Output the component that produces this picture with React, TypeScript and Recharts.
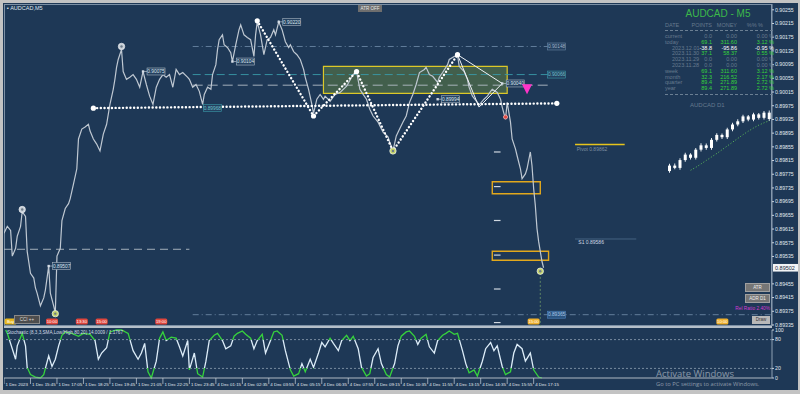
import React from 'react'
import {
  ComposedChart, Line, Bar, XAxis, YAxis,
  ReferenceLine, ReferenceArea, ReferenceDot,
} from 'recharts'

const FONT = '"Liberation Sans", "DejaVu Sans", sans-serif'
const BG = '#1e3856'
const AXIS_TEXT = '#e3eaf1'

// M5 bar index (0 = first bar on screen) and close price
const bars = [
  0, 2, 4, 5, 7, 8, 10, 11, 13, 14,
  16, 18, 19, 20, 22, 24, 25, 27, 28, 30,
  31, 32, 34, 35, 37, 39, 40, 42, 44, 45,
  47, 49, 51, 52, 54, 56, 58, 60, 62, 64,
  66, 67, 68, 69, 71, 72, 74, 76, 78, 80,
  82, 84, 86, 88, 90, 92, 94, 96, 98, 100,
  102, 104, 106, 108, 111, 112, 114, 116, 118, 120,
  121, 123, 125, 126, 128, 129, 130, 132, 133, 135,
  137, 138, 140, 142, 143, 145, 147, 149, 151, 152,
  153, 155, 157, 159, 161, 163, 164, 166, 168, 170,
  172, 173, 175, 177, 179, 181, 182, 184, 186, 187,
  189, 191, 193, 194, 197, 200, 203, 207, 211, 213,
  215, 217, 219, 221, 223, 226, 229, 232, 233, 235,
  237, 239, 241, 243, 245, 247, 249, 251, 254, 255,
  257, 259, 262, 263, 265, 268, 269, 272, 274, 275,
  278, 280, 281, 283, 286, 287, 290, 292, 294, 295,
  298, 300, 301, 303, 304, 306, 307, 309, 310, 312,
  313, 315, 316, 318, 319, 320, 321, 322, 323, 324,
  325, 326,
]
const closes = [
  0.89603, 0.89623, 0.89611, 0.89536, 0.89559, 0.89594, 0.89623, 0.89666, 0.89652, 0.8955,
  0.89486, 0.89472, 0.89443, 0.89428, 0.89391, 0.89414, 0.89437, 0.89507, 0.89428, 0.89391,
  0.8937, 0.89536, 0.89559, 0.8964, 0.89675, 0.89689, 0.89704, 0.89747, 0.89791, 0.89878,
  0.89907, 0.89913, 0.89921, 0.89901, 0.89878, 0.89863, 0.89843, 0.89892, 0.89921, 0.89979,
  0.90023, 0.90052, 0.90087, 0.9011, 0.90139, 0.90075, 0.90052, 0.90058, 0.90066, 0.90052,
  0.90029, 0.90075, 0.90037, 0.90003, 0.89979, 0.90029, 0.90052, 0.90066, 0.90058, 0.90066,
  0.90029, 0.90081, 0.90066, 0.90072, 0.90058, 0.90052, 0.90029, 0.90037, 0.90017, 0.89979,
  0.90008, 0.90029, 0.90023, 0.90066, 0.90095, 0.90139, 0.90168, 0.90182, 0.90153, 0.90145,
  0.9013, 0.90104, 0.90153, 0.90197, 0.90211, 0.90182, 0.90174, 0.90168, 0.90119, 0.90182,
  0.9022, 0.90182, 0.90124, 0.90168, 0.90174, 0.90197, 0.90182, 0.9022, 0.90197, 0.90162,
  0.90145, 0.90153, 0.90133, 0.90124, 0.9011, 0.90081, 0.90058, 0.90023, 0.89979, 0.89953,
  0.89994, 0.90008, 0.89994, 0.90003, 0.89988, 0.90008, 0.90014, 0.90032, 0.90066, 0.90075,
  0.90023, 0.90008, 0.89994, 0.89965, 0.89945, 0.89927, 0.89898, 0.89884, 0.89869, 0.89843,
  0.89887, 0.89907, 0.89927, 0.89945, 0.89985, 0.90008, 0.90037, 0.90072, 0.90081, 0.90087,
  0.90066, 0.90061, 0.90043, 0.90058, 0.90072, 0.90095, 0.9011, 0.90119, 0.90124, 0.9009,
  0.90075, 0.90052, 0.90029, 0.90003, 0.89985, 0.89977, 0.89994, 0.90003, 0.90017, 0.90023,
  0.90014, 0.89994, 0.89971, 0.89936, 0.89985, 0.89927, 0.89878, 0.89849, 0.89829, 0.89791,
  0.89762, 0.89776, 0.89791, 0.8984, 0.898, 0.89733, 0.89684, 0.89617, 0.89579, 0.8955,
  0.89521, 0.89502,
]

// stochastic main line
const oscBars = [
  1, 2, 5, 7, 8, 11, 13, 14, 16, 19, 22, 24, 27, 29, 31, 33, 35, 37, 41, 45,
  48, 52, 55, 57, 59, 62, 64, 68, 71, 75, 78, 81, 83, 85, 87, 89, 92, 94, 96, 98,
  101, 104, 106, 108, 111, 112, 115, 117, 120, 122, 124, 127, 129, 132, 134, 137, 139, 141, 144, 146,
  149, 151, 153, 156, 158, 161, 163, 165, 168, 170, 173, 175, 178, 180, 182, 185, 187, 190, 192, 194,
  197, 199, 202, 204, 207, 209, 211, 214, 216, 219, 221, 223, 226, 228, 231, 233, 236, 238, 240, 243,
  245, 248, 250, 252, 255, 257, 260, 262, 265, 267, 269, 272, 274, 277, 279, 281, 284, 286, 289, 291,
  294, 296, 298, 301, 303, 306, 308, 310, 313, 315, 318, 320, 323, 325,
]
const stochK = [
  100, 93, 61, 39, 67, 93, 67, 22, 7, 2, 0, 7, 46, 24, 39, 67, 89, 96, 93, 87,
  93, 91, 78, 39, 52, 63, 96, 100, 100, 93, 57, 39, 52, 72, 13, 0, 35, 83, 96, 78,
  85, 83, 65, 46, 78, 17, 52, 9, 2, 35, 78, 89, 93, 78, 61, 67, 87, 93, 98, 91,
  83, 61, 78, 91, 52, 78, 96, 98, 89, 57, 17, 4, 9, 30, 13, 39, 22, 52, 74, 65,
  83, 72, 57, 78, 89, 78, 87, 61, 22, 4, 9, 43, 61, 30, 7, 2, 30, 67, 87, 96,
  98, 87, 70, 83, 91, 65, 52, 78, 89, 93, 98, 91, 93, 57, 30, 11, 17, 4, 35, 61,
  74, 57, 67, 24, 7, 13, 52, 70, 61, 35, 52, 17, 2, 0,
]

const priceTicks = [
  0.90255, 0.90215, 0.90175, 0.90135, 0.90095, 0.90055, 0.90015, 0.89975,
  0.89935, 0.89895, 0.89855, 0.89815, 0.89775, 0.89735, 0.89695, 0.89655,
  0.89615, 0.89575, 0.89535, 0.89455, 0.89415, 0.89375, 0.89335,
]
const timeTicks = [0, 16, 32, 48, 64, 80, 96, 112, 128, 144, 160, 176, 192, 208, 224, 240, 256, 272, 288, 304, 320]
const timeLabels = [
  '1 Dec 2023', '1 Dec 15:45', '1 Dec 17:05', '1 Dec 18:25', '1 Dec 19:45', '1 Dec 21:05', '1 Dec 22:25',
  '1 Dec 23:45', '4 Dec 01:15', '4 Dec 02:35', '4 Dec 03:55', '4 Dec 05:15', '4 Dec 06:35', '4 Dec 07:55',
  '4 Dec 09:15', '4 Dec 10:35', '4 Dec 11:55', '4 Dec 13:15', '4 Dec 14:35', '4 Dec 15:55', '4 Dec 17:15',
]

// drawn objects
const zigzag = [
  { t: 153, p: 0.90223 }, { t: 187, p: 0.89945 }, { t: 213, p: 0.90075 },
  { t: 235, p: 0.89843 }, { t: 274, p: 0.90124 },
]
const neckline = [{ t: 54, p: 0.89968 }, { t: 334, p: 0.89982 }]
const triangle = [
  { t: 274, p: 0.90124 }, { t: 287, p: 0.89971 }, { t: 301, p: 0.9004 }, { t: 274, p: 0.90124 },
]
const levelLines = [
  { price: 0.90148, from: 114, to: 330, color: '#6a86a3', dash: '6 3 1 3' },
  { price: 0.90066, from: 114, to: 330, color: '#3a9aa8', dash: '8 4' },
  { price: 0.90035, from: 114, to: 330, color: '#b3bcc6', dash: '10 5' },
  { price: 0.89556, from: 0, to: 112, color: '#b3bcc6', dash: '8 5' },
  { price: 0.89365, from: 114, to: 464, color: '#6a86a3', dash: '6 3 1 3' },
]
const fibLevels = [0.8984, 0.89739, 0.8964, 0.89539, 0.8944, 0.89342]
const priceTags = [0.89507, 0.90075, 0.90104, 0.9022, 0.89994, 0.9004]
const priceTagBars = [27, 84, 138, 166, 262, 301]
const swingMarks = [
  { t: 11, p: 0.89672, c: '#c9d0d8' }, { t: 71, p: 0.90148, c: '#c9d0d8' },
  { t: 31, p: 0.89368, c: '#c4d46a' }, { t: 235, p: 0.89843, c: '#c4d46a' },
  { t: 324, p: 0.89492, c: '#c4d46a' },
]
const eventFlags = [
  { t: 29, text: '10:00', c: '#e0463c' }, { t: 47, text: '13:30', c: '#e0463c' },
  { t: 59, text: '15:00', c: '#e0463c' }, { t: 95, text: '19:00', c: '#e0463c' },
  { t: 320, text: '15:00', c: '#efb02c' }, { t: 434, text: '10:00', c: '#efb02c' },
]

// account stats table
const statRows = ['current', 'today', '2023.12.01', '2023.11.30', '2023.11.29', '2023.11.28', 'week', 'month', 'quarter', 'year']
const statPoints = [0, 69.1, -38.8, 37.1, 0, 0, 69.1, 32.3, 89.4, 89.4]
const statMoney = [0, 311.6, -95.86, 58.37, 0, 0, 311.6, 216.52, 271.89, 271.89]
const statPct = [0, 3.12, -0.95, 0.55, 0, 0, 3.12, 2.17, 2.72, 2.72]

// D1 mini chart
const d1Open = [0.8832, 0.8851, 0.8843, 0.887, 0.8889, 0.8878, 0.8906, 0.8921, 0.8912, 0.894, 0.8957, 0.8949, 0.8976, 0.8993, 0.9004, 0.9021, 0.901, 0.9028, 0.9016, 0.9034]
const d1Close = [0.8851, 0.8843, 0.887, 0.8889, 0.8878, 0.8906, 0.8921, 0.8912, 0.894, 0.8957, 0.8949, 0.8976, 0.8993, 0.9004, 0.9021, 0.901, 0.9028, 0.9016, 0.9034, 0.9012]
const d1High = [0.8857, 0.8858, 0.8876, 0.8895, 0.8894, 0.8912, 0.8928, 0.8927, 0.8946, 0.8963, 0.8962, 0.8982, 0.8999, 0.9011, 0.9027, 0.9026, 0.9034, 0.9033, 0.904, 0.9041]
const d1Low = [0.8826, 0.8838, 0.8837, 0.8864, 0.8872, 0.8872, 0.89, 0.8906, 0.8906, 0.8934, 0.8943, 0.8943, 0.897, 0.8987, 0.8998, 0.9004, 0.9004, 0.901, 0.901, 0.9005]
const d1Ma = [null, null, null, null, 0.8835, 0.8845, 0.8857, 0.8869, 0.8881, 0.8893, 0.8906, 0.8919, 0.8932, 0.8945, 0.8958, 0.897, 0.8981, 0.8991, 0.8999, 0.9006]

const priceData = bars.map((t, i) => ({ t, close: closes[i] }))
const oscData = oscBars.map((t, i) => ({ t, k: stochK[i] }))
const d1Data = d1Open.map((o, i) => ({
  i,
  body: [Math.min(o, d1Close[i]), Math.max(o, d1Close[i])],
  wick: [d1Low[i], d1High[i]],
  ma: d1Ma[i],
}))
const lastClose = closes[closes.length - 1]

const tag = (text: string, border: string, fill = '#24405f', color = '#dbe4ee', withDot = true) =>
  (p: any) => (
    <g>
      {withDot && <rect x={p.cx - 1.2} y={p.cy - 1.2} width={2.4} height={2.4} fill="#d5dde6" />}
      {withDot && <line x1={p.cx + 1} y1={p.cy} x2={p.cx + 4} y2={p.cy} stroke="#d5dde6" strokeWidth={0.6} />}
      <rect x={p.cx + 4} y={p.cy - 3.5} width={18} height={7} fill={fill} stroke={border} strokeWidth={0.6} />
      <text x={p.cx + 13} y={p.cy + 1.8} fontSize={4.8} textAnchor="middle" fill={color} fontFamily={FONT}>{text}</text>
    </g>
  )

const ring = (c: string) => (p: any) => (
  <g>
    <circle cx={p.cx} cy={p.cy} r={3.2} fill={c} stroke="#eef1f4" strokeWidth={0.7} />
    <circle cx={p.cx} cy={p.cy} r={1.2} fill="#6d7b88" />
  </g>
)

const flag = (text: string, c: string) => (p: any) => (
  <g>
    <rect x={p.cx - 6} y={p.cy - 3} width={12} height={6} rx={1.5} fill={c} />
    <text x={p.cx} y={p.cy + 1.6} fontSize={4.2} textAnchor="middle" fill="#fff" fontFamily={FONT}>{text}</text>
  </g>
)

const pinkArrow = (p: any) => (
  <polygon points={`${p.cx - 5},${p.cy - 5} ${p.cx + 5},${p.cy - 5} ${p.cx},${p.cy + 5}`} fill="#ff34c8" />
)

const textMark = (text: string, color: string, size = 5.5) => (p: any) => (
  <text x={p.cx} y={p.cy} fontSize={size} fill={color} fontFamily={FONT}>{text}</text>
)

function CurrentPrice(props: any) {
  const vb = props.viewBox || {}
  const x = vb.x + vb.width + 1
  return (
    <g>
      <rect x={x} y={vb.y - 3.8} width={25} height={7.6} fill="#f2f4f6" />
      <text x={x + 2} y={vb.y + 2} fontSize={5.5} fill="#1b2a3a" fontFamily={FONT}>{lastClose.toFixed(5)}</text>
    </g>
  )
}

function TimeTick(props: any) {
  const idx = timeTicks.indexOf(props.payload.value)
  return (
    <g>
      <line x1={props.x} y1={props.y - 2} x2={props.x} y2={props.y + 4} stroke="#c8d2dc" strokeWidth={0.7} />
      <text x={props.x + 1.5} y={props.y + 5.5} fontSize={4.4} fill={AXIS_TEXT} fontFamily={FONT}>{timeLabels[idx]}</text>
    </g>
  )
}

function statColor(v: number) {
  if (v > 0) return '#35d23b'
  if (v < 0) return '#ffffff'
  return '#667a8e'
}

export default function App() {
  return (
    <div style={{ position: 'absolute', left: 0, top: 0, width: 800, height: 394, background: '#c3c3c3', overflow: 'hidden', fontFamily: FONT }}>
      <div style={{ position: 'absolute', left: 3, top: 3, width: 795, height: 387, background: BG }} />
      <div style={{ position: 'absolute', left: 4, top: 4, width: 768, height: 322, border: '1px solid #7c90a5', boxSizing: 'border-box' }} />
      <div style={{ position: 'absolute', left: 4, top: 326, width: 768, height: 2, background: '#b5bfc9' }} />

      <div style={{ position: 'absolute', left: 4, top: 4 }}>
        <ComposedChart width={796} height={326} data={priceData} margin={{ top: 0, right: 0, bottom: 4, left: 0 }}>
          <XAxis dataKey="t" type="number" domain={[0, 464]} hide />
          <YAxis
            orientation="right"
            type="number"
            domain={[0.89332, 0.90272]}
            ticks={priceTicks}
            interval={0}
            width={28}
            tickSize={2}
            tickMargin={1}
            tickFormatter={(v: number) => v.toFixed(5)}
            tick={{ fontSize: 5.2, fill: AXIS_TEXT, fontFamily: FONT }}
            tickLine={{ stroke: '#c8d2dc' }}
            axisLine={{ stroke: '#8ea0b3' }}
          />
          <ReferenceArea x1={193} x2={304} y1={0.90011} y2={0.9009} fill="#6e9040" fillOpacity={0.45} stroke="#dcc828" strokeWidth={1.2} />
          <ReferenceArea x1={295} x2={324} y1={0.89718} y2={0.89753} fill="none" stroke="#e2a81c" strokeWidth={1.4} />
          <ReferenceArea x1={295} x2={329} y1={0.89524} y2={0.8955} fill="none" stroke="#e2a81c" strokeWidth={1.4} />
          {levelLines.map((l, i) => (
            <ReferenceLine key={'lv' + i} segment={[{ x: l.from, y: l.price }, { x: l.to, y: l.price }]} stroke={l.color} strokeDasharray={l.dash} strokeWidth={0.9} />
          ))}
          <ReferenceLine segment={[{ x: 345, y: 0.89862 }, { x: 375, y: 0.89862 }]} stroke="#e6c41c" strokeWidth={1.4} />
          <ReferenceLine segment={[{ x: 345, y: 0.89586 }, { x: 382, y: 0.89586 }]} stroke="#4f6d8d" strokeWidth={0.8} />
          <ReferenceLine segment={[{ x: 324, y: 0.89487 }, { x: 324, y: 0.89332 }]} stroke="#6e9a6a" strokeDasharray="2 2" strokeWidth={0.8} />
          {fibLevels.map((f, i) => (
            <ReferenceLine key={'fb' + i} segment={[{ x: 296, y: f }, { x: 300, y: f }]} stroke="#d0d8e0" strokeWidth={1.2} />
          ))}
          <ReferenceLine y={lastClose} stroke="none" label={(p: any) => <CurrentPrice {...p} />} />

          <Line dataKey="close" stroke="#bfc8d2" strokeWidth={1.2} dot={false} isAnimationActive={false} />

          <Line data={triangle} dataKey="p" stroke="#eef2f6" strokeWidth={1} dot={false} isAnimationActive={false} />
          <Line data={neckline} dataKey="p" stroke="#ffffff" strokeWidth={2.4} strokeDasharray="0.1 3.6" strokeLinecap="round"
            dot={{ r: 2.6, fill: '#ffffff', stroke: 'none', strokeWidth: 0 }} isAnimationActive={false} />
          <Line data={zigzag} dataKey="p" stroke="#ffffff" strokeWidth={2.4} strokeDasharray="0.1 3.6" strokeLinecap="round"
            dot={{ r: 2.6, fill: '#ffffff', stroke: 'none', strokeWidth: 0 }} isAnimationActive={false} />

          {swingMarks.map((m, i) => (
            <ReferenceDot key={'sw' + i} x={m.t} y={m.p} shape={ring(m.c)} />
          ))}
          {priceTags.map((p, i) => (
            <ReferenceDot key={'tg' + i} x={priceTagBars[i]} y={p} shape={tag(p.toFixed(5), '#aab6c2')} />
          ))}
          <ReferenceDot x={326} y={0.90148} shape={tag('0.90148', '#6a86a3', '#24405f', '#9fb3c8', false)} />
          <ReferenceDot x={326} y={0.90066} shape={tag('0.90066', '#3a9aa8', '#24405f', '#6fc3cc', false)} />
          <ReferenceDot x={326} y={0.89365} shape={tag('0.89365', '#4f86c0', '#2b5480', '#a9c8e8', false)} />
          <ReferenceDot x={118} y={0.89968} shape={tag('0.89968', '#3a9aa8', '#24405f', '#6fc3cc', false)} />
          <ReferenceDot x={316} y={0.90023} shape={pinkArrow} />
          <ReferenceDot x={303} y={0.89942} r={2} fill="#e0463c" stroke="#f0a0a0" />
          <ReferenceDot x={346} y={0.89842} shape={textMark('Pivot 0.89862', '#7f90a2', 5)} />
          <ReferenceDot x={347} y={0.89572} shape={textMark('S1 0.89586', '#cfd8e2', 5)} />
          {eventFlags.map((f, i) => (
            <ReferenceDot key={'ev' + i} x={f.t} y={0.89345} shape={flag(f.text, f.c)} />
          ))}
          <ReferenceDot x={4} y={0.89345} shape={flag('Buy', '#e8b820')} />
        </ComposedChart>
      </div>

      <div style={{ position: 'absolute', left: 4, top: 328 }}>
        <ComposedChart width={796} height={62} data={oscData} margin={{ top: 2, right: 0, bottom: 0, left: 0 }}>
          <defs>
            <linearGradient id="stochStroke" gradientUnits="userSpaceOnUse" x1="0" y1="2" x2="0" y2="50">
              <stop offset="0.2" stopColor="#36d23c" />
              <stop offset="0.2" stopColor="#dcecf8" />
              <stop offset="0.8" stopColor="#dcecf8" />
              <stop offset="0.8" stopColor="#36d23c" />
            </linearGradient>
          </defs>
          <XAxis
            dataKey="t"
            type="number"
            domain={[0, 464]}
            ticks={timeTicks}
            interval={0}
            height={12}
            tickSize={2}
            tickMargin={0}
            tickLine={false}
            tick={(p: any) => <TimeTick {...p} />}
            axisLine={{ stroke: '#aeb8c2' }}
          />
          <YAxis
            orientation="right"
            type="number"
            domain={[0, 100]}
            ticks={[0, 20, 80, 100]}
            interval={0}
            width={28}
            tickSize={2}
            tickMargin={1}
            tick={{ fontSize: 5.2, fill: AXIS_TEXT, fontFamily: FONT }}
            tickLine={{ stroke: '#c8d2dc' }}
            axisLine={{ stroke: '#8ea0b3' }}
          />
          <ReferenceLine y={80} stroke="#9fb0c2" strokeDasharray="2 2" strokeWidth={0.7} />
          <ReferenceLine y={20} stroke="#9fb0c2" strokeDasharray="2 2" strokeWidth={0.7} />
          <Line dataKey="k" stroke="url(#stochStroke)" strokeWidth={1.3} dot={false} isAnimationActive={false} />
        </ComposedChart>
      </div>

      {/* captions and panel texts */}
      <div style={{ position: 'absolute', left: 7, top: 5, fontSize: 5.5, color: '#dfe6ee' }}>▪ AUDCAD,M5</div>
      <div style={{ position: 'absolute', left: 7, top: 330, fontSize: 4.6, color: '#d2dbe4', whiteSpace: 'nowrap' }}>
        Stochastic (8,3,3,SMA,Low/High,80,20) 14.0009 / 1.1767
      </div>
      <div style={{ position: 'absolute', left: 358, top: 5, width: 24, height: 7, background: '#6e6e6e', color: '#e8e8e8', fontSize: 4.5, lineHeight: '7px', textAlign: 'center' }}>ATR OFF</div>
      <div style={{ position: 'absolute', left: 14, top: 315, width: 24, height: 7, background: '#4d4d4d', border: '0.5px solid #888', color: '#ddd', fontSize: 4.5, lineHeight: '7px', textAlign: 'center' }}>CCI ++</div>

      {/* stats table */}
      <div style={{ position: 'absolute', left: 660, top: 8, width: 116, textAlign: 'center', fontSize: 10, color: '#3cb84a' }}>AUDCAD - M5</div>
      <div style={{ position: 'absolute', left: 665, top: 22, fontSize: 5.5, color: '#667a8e' }}>DATE</div>
      <div style={{ position: 'absolute', left: 682, top: 22, width: 30, textAlign: 'right', fontSize: 5.5, color: '#667a8e' }}>POINTS</div>
      <div style={{ position: 'absolute', left: 707, top: 22, width: 30, textAlign: 'right', fontSize: 5.5, color: '#667a8e' }}>MONEY</div>
      <div style={{ position: 'absolute', left: 733, top: 22, width: 30, textAlign: 'right', fontSize: 5.5, color: '#667a8e' }}>%% %</div>
      <div style={{ position: 'absolute', left: 665, top: 30, width: 108, borderTop: '1px dashed #6b7f93' }} />
      {statRows.map((r, i) => (
        <div key={r} style={{ position: 'absolute', left: 0, top: 33 + i * 5.8, fontSize: 5.5, lineHeight: '6px', whiteSpace: 'nowrap' }}>
          <span style={{ position: 'absolute', left: r.startsWith('20') ? 672 : 665, color: '#667a8e' }}>{r}</span>
          <span style={{ position: 'absolute', left: 682, width: 30, textAlign: 'right', color: statColor(statPoints[i]) }}>{statPoints[i].toFixed(1)}</span>
          <span style={{ position: 'absolute', left: 707, width: 30, textAlign: 'right', color: statColor(statMoney[i]) }}>{statMoney[i].toFixed(2)}</span>
          <span style={{ position: 'absolute', left: 734, width: 40, textAlign: 'right', color: statColor(statPct[i]) }}>{statPct[i].toFixed(2)} %</span>
        </div>
      ))}
      <div style={{ position: 'absolute', left: 665, top: 94, width: 108, borderTop: '1px dashed #6b7f93' }} />
      <div style={{ position: 'absolute', left: 690, top: 102, width: 30, textAlign: 'center', fontSize: 6, color: '#667a8e', whiteSpace: 'nowrap' }}>AUDCAD D1</div>

      <div style={{ position: 'absolute', left: 667, top: 108 }}>
        <ComposedChart width={105} height={68} data={d1Data} margin={{ top: 0, right: 0, bottom: 0, left: 0 }}>
          <XAxis xAxisId="w" dataKey="i" hide />
          <XAxis xAxisId="b" dataKey="i" hide />
          <YAxis hide domain={[0.8815, 0.905]} />
          <Bar xAxisId="w" dataKey="wick" fill="#e8edf2" barSize={1} isAnimationActive={false} />
          <Bar xAxisId="b" dataKey="body" fill="#ffffff" barSize={3} isAnimationActive={false} />
          <Line xAxisId="b" dataKey="ma" stroke="#5fc35a" strokeWidth={1} strokeDasharray="1 2" dot={false} connectNulls isAnimationActive={false} />
        </ComposedChart>
      </div>

      {/* buttons on the right */}
      <div style={{ position: 'absolute', left: 745, top: 283, width: 23, height: 7, background: '#767676', border: '0.5px solid #a0a0a0', color: '#eee', fontSize: 4.5, lineHeight: '7px', textAlign: 'center' }}>ATR</div>
      <div style={{ position: 'absolute', left: 745, top: 294, width: 23, height: 7, background: '#767676', border: '0.5px solid #a0a0a0', color: '#eee', fontSize: 4.5, lineHeight: '7px', textAlign: 'center' }}>ADR D1</div>
      <div style={{ position: 'absolute', left: 720, top: 306, width: 50, textAlign: 'right', color: '#d23ad2', fontSize: 4.8, whiteSpace: 'nowrap' }}>Rel Ratio 2.40%</div>
      <div style={{ position: 'absolute', left: 752, top: 316, width: 18, height: 8, background: '#b8b8b8', color: '#333', fontSize: 4.5, lineHeight: '8px', textAlign: 'center' }}>Draw</div>

      {/* watermark */}
      <div style={{ position: 'absolute', left: 656, top: 367, fontSize: 9.5, color: 'rgba(225,230,236,0.55)', fontFamily: '"Open Sans", "Noto Sans", sans-serif', whiteSpace: 'nowrap' }}>Activate Windows</div>
      <div style={{ position: 'absolute', left: 656, top: 380, fontSize: 5.8, color: 'rgba(225,230,236,0.55)', fontFamily: '"Open Sans", "Noto Sans", sans-serif', whiteSpace: 'nowrap' }}>Go to PC settings to activate Windows.</div>
    </div>
  )
}
